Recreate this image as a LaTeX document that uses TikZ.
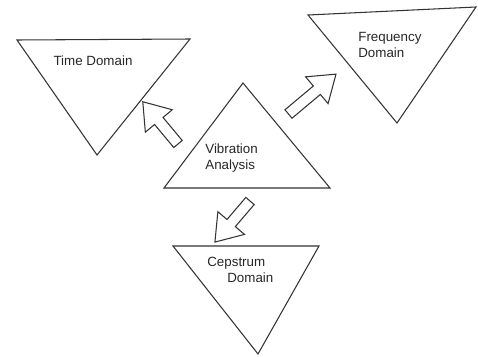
\documentclass[tikz,border=0pt]{standalone}
\usepackage{fontspec}
\setmainfont{Liberation Sans}
\newcommand{\blockarrow}[3]{% tail, angle, length
	\begin{scope}[shift={#1},rotate=#2]
		\draw[outline] (0,-5.5) -- (#3-25,-5.5) -- (#3-25,-17.5) -- (#3,0)
			-- (#3-25,17.5) -- (#3-25,5.5) -- (0,5.5) -- cycle;
	\end{scope}}
\begin{document}
\begin{tikzpicture}[x=0.02cm,y=0.02cm,
		outline/.style={draw=black!80,line width=0.6pt,line join=miter},
		label/.style={font=\fontsize{7.6}{9.1}\selectfont,text=black!85,inner sep=0pt,align=left}]
	\useasboundingbox (0,0) rectangle (478,356);
	% triangles
	\draw[outline] (17,316) -- (190,317) -- (97,201) -- cycle;
	\draw[outline] (308,341) -- (476,349) -- (397,233) -- cycle;
	\draw[outline] (243,273) -- (330,168) -- (164,168) -- cycle;
	\draw[outline] (173,110) -- (319,110) -- (258,2) -- cycle;
	% labels
	\node[label] (time) at (93,295) {Time Domain};
	\node[label,anchor=west] (freq) at (358,311) {Frequency\\Domain};
	\node[label,anchor=west] (vib) at (205,198) {Vibration\\Analysis};
	\node[label,anchor=west] (ceps) at (207,86) {Cepstrum\\\hspace*{0.4cm}Domain};
	% block arrows
	\blockarrow{(178,212)}{129.8}{55}
	\blockarrow{(288.5,242)}{40}{62}
	\blockarrow{(250,155)}{229.5}{54}
\end{tikzpicture}
\end{document}
